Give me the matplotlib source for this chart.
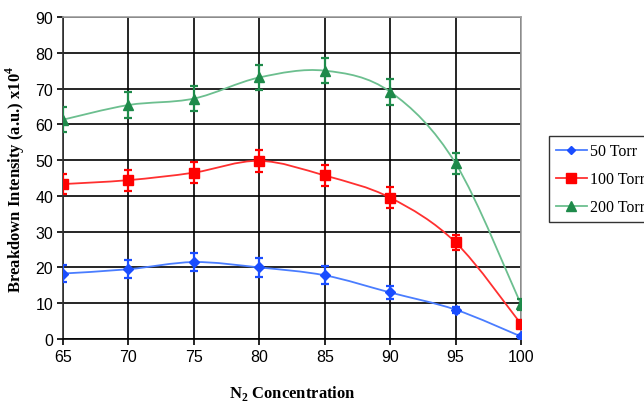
import numpy as np
import matplotlib
matplotlib.use("Agg")
import matplotlib.pyplot as plt
from matplotlib.path import Path
from matplotlib.patches import PathPatch
from matplotlib.lines import Line2D

plt.rcParams['mathtext.fontset'] = 'custom'
plt.rcParams['mathtext.rm'] = 'Liberation Serif'
plt.rcParams['mathtext.bf'] = 'Liberation Serif:bold'

concentration = [65, 70, 75, 80, 85, 90, 95, 100]
torr50 = [18.3, 19.5, 21.5, 20.0, 17.8, 13.0, 8.2, 0.7]
torr50_err = [2.5, 2.5, 2.6, 2.6, 2.5, 1.7, 0.8, 0.3]
torr100 = [43.3, 44.4, 46.5, 49.8, 45.7, 39.5, 27.0, 4.2]
torr100_err = [2.8, 2.9, 2.9, 3.0, 2.9, 2.9, 2.2, 0.6]
torr200 = [61.3, 65.4, 67.2, 73.1, 75.0, 69.1, 49.1, 9.7]
torr200_err = [3.5, 3.7, 3.6, 3.5, 3.5, 3.6, 3.0, 1.6]
labels = ['50 Torr', '100 Torr', '200 Torr']
x_ticks = [65, 70, 75, 80, 85, 90, 95, 100]
y_ticks = [0, 10, 20, 30, 40, 50, 60, 70, 80, 90]

fig = plt.figure(figsize=(6.44, 4.02), dpi=100)
ax = fig.add_axes([63/644, 1-340/402, (521-63)/644, (340-18)/402])


def smooth_path(xs, ys):
    P = np.column_stack([xs, ys]).astype(float)
    n = len(P)
    verts = [P[0]]
    codes = [Path.MOVETO]
    for i in range(n - 1):
        p0 = P[i - 1] if i > 0 else P[i]
        p1 = P[i]
        p2 = P[i + 1]
        p3 = P[i + 2] if i + 2 < n else P[i + 1]
        c1 = p1 + (p2 - p0) / 6.0
        c2 = p2 - (p3 - p1) / 6.0
        verts += [c1, c2, p2]
        codes += [Path.CURVE4] * 3
    return Path(verts, codes)


series = [
    (torr50, torr50_err, '#4a7dff', '#1a4dff', 'D', 5.5),
    (torr100, torr100_err, '#ff3030', '#ff0000', 's', 7.5),
    (torr200, torr200_err, '#6cbf8f', '#1e8a4a', '^', 7.5),
]

handles = []
for (vals, errs, lc, mc, mk, ms), lab in zip(series, labels):
    ax.add_patch(PathPatch(smooth_path(concentration, vals), fill=False,
                           edgecolor=lc, lw=1.3, zorder=3))
    ax.errorbar(concentration, vals, yerr=errs, fmt='none', ecolor=mc,
                elinewidth=1.6, capsize=3, capthick=1.6, zorder=4)
    ax.plot(concentration, vals, linestyle='none', marker=mk, ms=ms,
            color=mc, zorder=5)
    handles.append(Line2D([], [], color=lc, lw=1.3, marker=mk, ms=ms - 1,
                          markerfacecolor=mc, markeredgecolor=mc))

ax.set_xlim(65, 100)
ax.set_ylim(0, 90)
ax.set_xticks(x_ticks)
ax.set_yticks(y_ticks)
ax.grid(True, color='black', lw=1.2, zorder=1)
ax.set_axisbelow(True)

for s in ['top', 'right']:
    ax.spines[s].set_color('#a0a0a0')
    ax.spines[s].set_linewidth(1.2)
ax.spines['left'].set_color('#333333')
ax.spines['bottom'].set_color('black')
ax.spines['left'].set_linewidth(1.2)
ax.spines['bottom'].set_linewidth(1.2)

ax.tick_params(axis='both', direction='out', length=4, width=1.2,
               labelsize=11.5, pad=3)
for t in ax.get_xticklabels() + ax.get_yticklabels():
    t.set_family('Liberation Sans')

ax.set_xlabel(r'N$_\mathbf{2}$ Concentration', family='Liberation Serif',
              fontweight='bold', fontsize=12, labelpad=14)
ax.set_ylabel(r'Breakdown Intensity (a.u.) x10$^\mathbf{4}$',
              family='Liberation Serif', fontweight='bold', fontsize=12,
              labelpad=6)

leg = fig.legend(handles, labels, loc='upper left',
                 bbox_to_anchor=(549/644, 1-137/402),
                 prop={'family': 'Liberation Serif', 'size': 11.5},
                 frameon=True, fancybox=False, edgecolor='black',
                 handlelength=1.9, handletextpad=0.2, labelspacing=0.75,
                 borderpad=0.45, borderaxespad=0)
leg.get_frame().set_linewidth(1.0)

fig.savefig('out.png', dpi=100)
